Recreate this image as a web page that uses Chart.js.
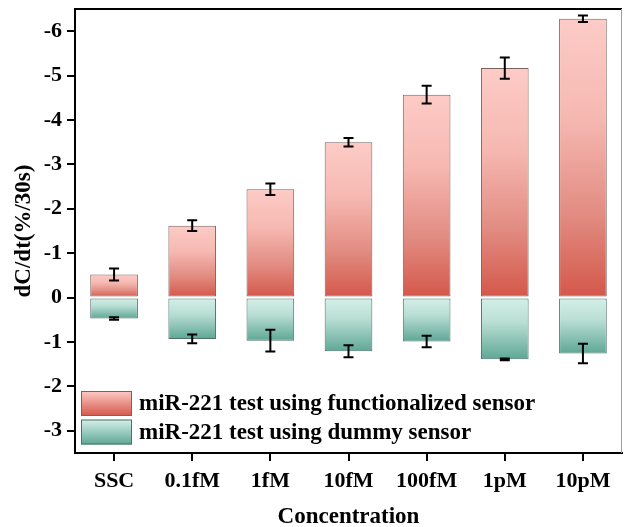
<!DOCTYPE html>
<html>
<head>
<meta charset="utf-8">
<script src="https://cdn.jsdelivr.net/npm/chart.js@4"></script>
<style>
  html, body { margin: 0; padding: 0; background: #fff; }
  #wrap { width: 624px; height: 527px; }
</style>
</head>
<body>
<div id="wrap"><canvas id="chart"></canvas></div>
<script>
// categorias y valores (eje Y invertido: -dC/dt hacia arriba)
const categories = ['SSC', '0.1fM', '1fM', '10fM', '100fM', '1pM', '10pM'];
const seriesNames = ['miR-221 test using functionalized sensor', 'miR-221 test using dummy sensor'];
const funcValues = [0.52, 1.62, 2.44, 3.50, 4.57, 5.17, 6.28];
const funcErrors = [0.135, 0.12, 0.13, 0.095, 0.2, 0.24, 0.075];
const dummyValues = [-0.47, -0.93, -0.97, -1.21, -0.99, -1.39, -1.26];
const dummyErrors = [0.03, 0.1, 0.245, 0.135, 0.13, 0.02, 0.22];
const yTicks = [-3, -2, -1, 0, 1, 2, 3, 4, 5, 6];

const serif = '"Liberation Serif", "Times New Roman", serif';

// degradados por barra (claro arriba -> oscuro abajo)
const redStops = [[0, '#fdcbc6'], [0.35, '#f6b9b2'], [0.7, '#e28c82'], [1, '#d4574a']];
const greenStops = [[0, '#d5f0e9'], [0.4, '#b9ded4'], [1, '#5ea795']];

function makeGradient(ctx, y0, y1, stops) {
    const g = ctx.createLinearGradient(0, y0, 0, y1);
    stops.forEach(s => g.addColorStop(s[0], s[1]));
    return g;
}

function barFill(stops, fallback) {
    return function(context) {
        const chart = context.chart;
        if (!chart.chartArea || context.type !== 'data') return fallback;
        const y = chart.scales.y;
        const pv = y.getPixelForValue(context.raw);
        const p0 = y.getPixelForValue(0);
        return makeGradient(chart.ctx, Math.min(pv, p0), Math.max(pv, p0), stops);
    };
}

// barras de error
const errorBars = {
    id: 'errorBars',
    afterDatasetsDraw(chart) {
        const ctx = chart.ctx;
        const y = chart.scales.y;
        const errs = [funcErrors, dummyErrors];
        ctx.save();
        ctx.strokeStyle = '#000';
        ctx.lineWidth = 2;
        chart.data.datasets.forEach((ds, i) => {
            const meta = chart.getDatasetMeta(i);
            meta.data.forEach((bar, j) => {
                const v = ds.data[j];
                const e = errs[i][j];
                const yt = y.getPixelForValue(v + e);
                const yb = y.getPixelForValue(v - e);
                const x = bar.x;
                ctx.beginPath();
                ctx.moveTo(x, yt); ctx.lineTo(x, yb);
                ctx.moveTo(x - 5, yt); ctx.lineTo(x + 5, yt);
                ctx.moveTo(x - 5, yb); ctx.lineTo(x + 5, yb);
                ctx.stroke();
            });
        });
        ctx.restore();
    }
};

// marco superior/derecho + leyenda dentro del area
const frameLegend = {
    id: 'frameLegend',
    afterDraw(chart) {
        const ctx = chart.ctx;
        const a = chart.chartArea;
        ctx.save();
        ctx.strokeStyle = '#000';
        ctx.lineWidth = 2;
        ctx.beginPath();
        ctx.moveTo(a.left - 1, a.top); ctx.lineTo(a.right, a.top);
        ctx.stroke();
        ctx.strokeStyle = '#a0a0a0';
        ctx.lineWidth = 1;
        ctx.beginPath();
        ctx.moveTo(a.right - 0.5, a.top); ctx.lineTo(a.right - 0.5, a.bottom);
        ctx.stroke();

        const boxes = [
            { top: a.bottom - 62, stops: [[0, '#fdcbc6'], [1, '#d4574a']], border: '#7a625e' },
            { top: a.bottom - 33.5, stops: [[0, '#d5f0e9'], [1, '#5ea795']], border: '#4f6f67' }
        ];
        const bx = a.left + 6, bw = 51, bh = 25;
        ctx.font = 'bold 23px ' + serif;
        ctx.textBaseline = 'middle';
        ctx.textAlign = 'left';
        boxes.forEach((b, i) => {
            ctx.fillStyle = makeGradient(ctx, b.top, b.top + bh, b.stops);
            ctx.fillRect(bx, b.top, bw, bh);
            ctx.strokeStyle = b.border;
            ctx.lineWidth = 1;
            ctx.strokeRect(bx + 0.5, b.top + 0.5, bw - 1, bh - 1);
            ctx.fillStyle = '#000';
            ctx.fillText(seriesNames[i], bx + bw + 7, b.top + bh / 2 + 1);
        });
        ctx.restore();
    }
};

new Chart(document.getElementById('chart'), {
    type: 'bar',
    data: {
        labels: categories,
        datasets: [
            {
                label: seriesNames[0],
                data: funcValues,
                backgroundColor: barFill(redStops, '#eaa49b'),
                borderColor: '#7a625e',
                borderWidth: 1,
                borderSkipped: false,
                barPercentage: 0.61,
                categoryPercentage: 1
            },
            {
                label: seriesNames[1],
                data: dummyValues,
                backgroundColor: barFill(greenStops, '#9fd0c3'),
                borderColor: '#4f6f67',
                borderWidth: 1,
                borderSkipped: false,
                barPercentage: 0.61,
                categoryPercentage: 1
            }
        ]
    },
    options: {
        responsive: true,
        maintainAspectRatio: false,
        animation: false,
        layout: { padding: { top: 9, right: 2, left: 0, bottom: 0 } },
        plugins: {
            legend: { display: false },
            tooltip: { enabled: false }
        },
        scales: {
            x: {
                stacked: true,
                grid: { display: true, drawOnChartArea: false, offset: false, tickLength: 8, lineWidth: 2, color: '#000' },
                border: { display: true, color: '#000', width: 2 },
                ticks: { color: '#000', padding: 7, font: { family: serif, size: 22, weight: 'bold' } },
                title: {
                    display: true, text: 'Concentration', color: '#000',
                    font: { family: serif, size: 23, weight: 'bold', lineHeight: 1 },
                    padding: { top: 0, bottom: -2 }
                },
                afterFit(scale) { scale.height = 74; scale.paddingLeft = 0; scale.paddingRight = 0; }
            },
            y: {
                stacked: true,
                min: -3.5,
                max: 6.5,
                afterBuildTicks(scale) { scale.ticks = yTicks.map(v => ({ value: v })); },
                grid: { display: true, drawOnChartArea: false, tickLength: 8, lineWidth: 2, color: '#000' },
                border: { display: true, color: '#000', width: 2 },
                ticks: {
                    color: '#000', padding: 5,
                    font: { family: serif, size: 22, weight: 'bold' },
                    callback: v => v === 0 ? '0' : '-' + Math.abs(v)
                },
                title: {
                    display: true, text: 'dC/dt(%/30s)', color: '#000',
                    font: { family: serif, size: 23, weight: 'bold', lineHeight: 1 },
                    padding: { top: 13, bottom: 0 }
                },
                afterFit(scale) { scale.width = 75; scale.paddingTop = 0; scale.paddingBottom = 0; }
            }
        }
    },
    plugins: [errorBars, frameLegend]
});
</script>
</body>
</html>
